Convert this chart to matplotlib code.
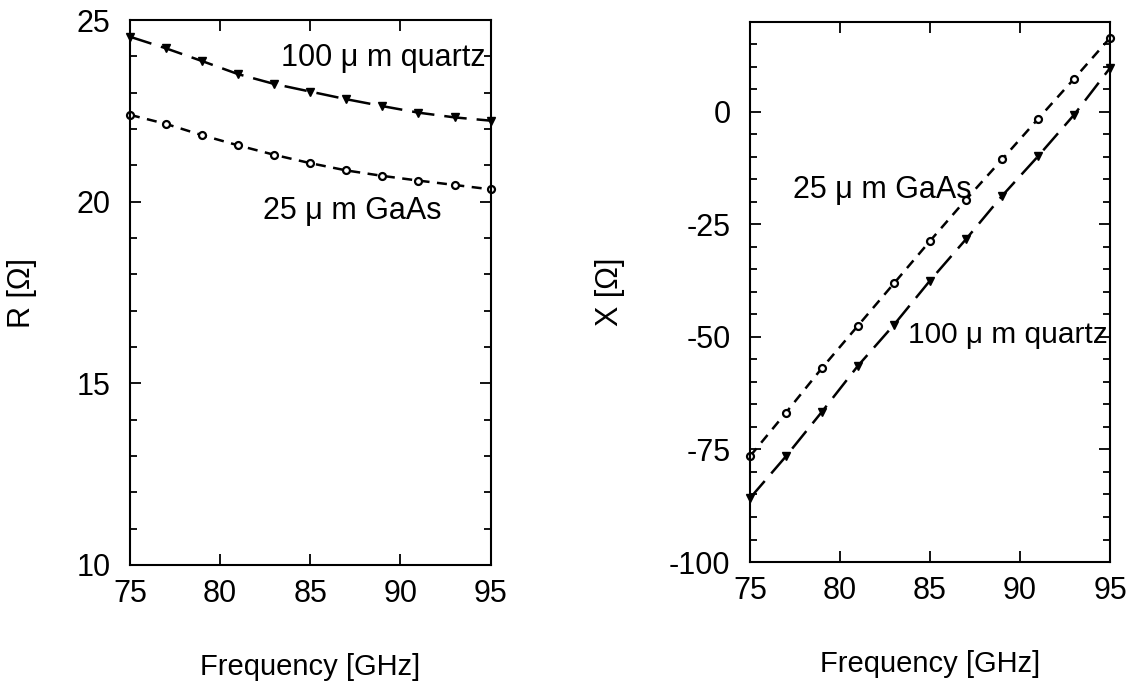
import matplotlib
matplotlib.use("Agg")
import matplotlib.pyplot as plt
from matplotlib.ticker import MultipleLocator, FixedLocator

plt.rcParams['font.family'] = ['Liberation Sans', 'DejaVu Sans']
plt.rcParams['axes.unicode_minus'] = False

freq = [75, 77, 79, 81, 83, 85, 87, 89, 91, 93, 95]
R_quartz = [24.54, 24.22, 23.87, 23.51, 23.24, 23.03, 22.82, 22.63, 22.45, 22.32, 22.23]
R_gaas = [22.39, 22.14, 21.83, 21.55, 21.29, 21.06, 20.86, 20.71, 20.58, 20.46, 20.34]
X_quartz = [-85.8, -76.5, -66.6, -56.4, -47.3, -37.5, -28.3, -18.7, -9.9, -0.7, 9.7]
X_gaas = [-76.5, -66.8, -56.9, -47.5, -38.1, -28.7, -19.5, -10.6, -1.6, 7.3, 16.4]

xticks = [75, 80, 85, 90, 95]
label_quartz = "100 \u03bc m quartz"
label_gaas = "25 \u03bc m GaAs"

fig = plt.figure(figsize=(11.33, 6.88), dpi=100)
ax1 = fig.add_axes([0.1147, 0.1788, 0.3183, 0.7921])
ax2 = fig.add_axes([0.662, 0.1831, 0.3177, 0.7854])

def style(ax, ylabel, lpad):
    for s in ax.spines.values():
        s.set_linewidth(1.5)
    ax.tick_params(which='both', direction='in', top=True, right=True,
                   labelsize=22, width=1.3)
    ax.tick_params(axis='x', pad=10)
    ax.tick_params(axis='y', pad=14)
    ax.tick_params(which='major', length=8)
    ax.tick_params(which='minor', length=5)
    ax.xaxis.set_major_locator(FixedLocator(xticks))
    ax.set_xlim(75, 95)
    ax.set_xlabel("Frequency [GHz]", fontsize=21, labelpad=32)
    ax.set_ylabel(ylabel, fontsize=22, labelpad=lpad)

lw = 1.8
# Left: resistance
ax1.plot(freq, R_quartz, color='black', lw=lw, dashes=(9, 4), marker='v',
         ms=6, mfc='black', mec='black', clip_on=False)
ax1.plot(freq, R_gaas, color='black', lw=lw, dashes=(4, 3), marker='o',
         ms=5, mfc='white', mec='black', mew=1.6, clip_on=False)
ax1.set_ylim(10, 25)
ax1.yaxis.set_major_locator(MultipleLocator(5))
ax1.yaxis.set_minor_locator(MultipleLocator(1))
style(ax1, "R [\u03a9]", 28)
ax1.text(94.75, 23.95, label_quartz, fontsize=22, ha='right', va='center')
ax1.text(82.4, 19.74, label_gaas, fontsize=22, ha='left', va='center')

# Right: reactance
ax2.plot(freq, X_quartz, color='black', lw=lw, dashes=(9, 4), marker='v',
         ms=6, mfc='black', mec='black', clip_on=False)
ax2.plot(freq, X_gaas, color='black', lw=lw, dashes=(4, 3), marker='o',
         ms=5, mfc='white', mec='black', mew=1.6, clip_on=False)
ax2.set_ylim(-100, 20)
ax2.yaxis.set_major_locator(MultipleLocator(25))
ax2.yaxis.set_minor_locator(MultipleLocator(5))
style(ax2, "X [\u03a9]", 32)
ax2.text(77.4, -17.3, label_gaas, fontsize=22, ha='left', va='center')
ax2.text(83.8, -49.6, label_quartz, fontsize=21.5, ha='left', va='center')

fig.savefig("out.png", dpi=100)
